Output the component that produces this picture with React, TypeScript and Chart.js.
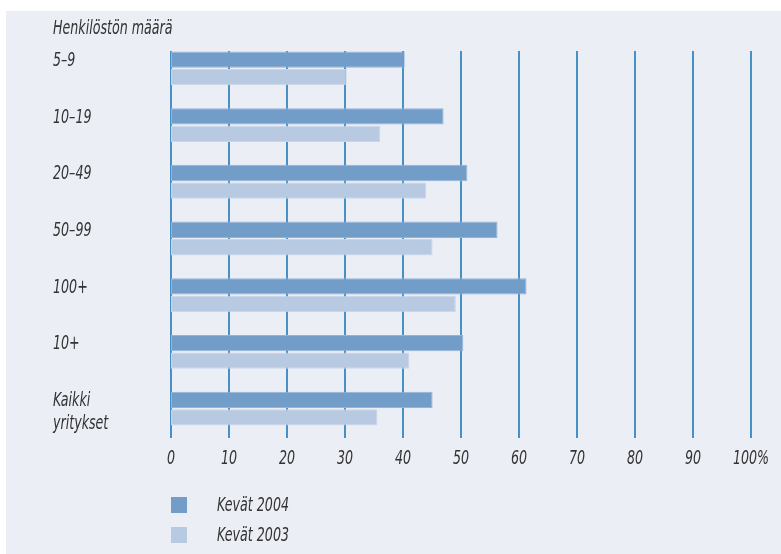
import React, { useEffect, useRef } from "react";
import { Chart, registerables } from "chart.js";

Chart.register(...registerables);

const categories: string[][] = [["5–9"], ["10–19"], ["20–49"], ["50–99"], ["100+"], ["10+"], ["Kaikki", "yritykset"]];
const spring2004: number[] = [40.3, 47.0, 51.1, 56.3, 61.3, 50.4, 45.1];
const spring2003: number[] = [30.3, 36.1, 44.0, 45.1, 49.1, 41.1, 35.6];
const xTicks: number[] = [0, 10, 20, 30, 40, 50, 60, 70, 80, 90, 100];
const xTickLabels: string[] = ["0", "10", "20", "30", "40", "50", "60", "70", "80", "90", "100%"];
const seriesNames: string[] = ["Kevät 2004", "Kevät 2003"];
const title = "Henkilöstön määrä";

const FONT = "italic 19px 'Liberation Sans Narrow', 'DejaVu Sans Condensed', Roboto, sans-serif";
const SX = 0.74;
const TEXT = "#333333";
const C2004 = "#729dc9";
const C2003 = "#b8c9e2";

function drawText(ctx: CanvasRenderingContext2D, text: string, x: number, y: number, align: "left" | "center") {
  ctx.save();
  ctx.translate(x, y);
  ctx.scale(SX, 1);
  ctx.textAlign = align;
  ctx.textBaseline = "middle";
  ctx.fillText(text, 0, 0);
  ctx.restore();
}

export default function App() {
  const ref = useRef<HTMLCanvasElement | null>(null);

  useEffect(() => {
    document.body.style.margin = "0";
    const canvas = ref.current;
    if (!canvas) return;

    const decor = {
      id: "decor",
      beforeDraw(chart: any) {
        const ctx = chart.ctx;
        ctx.save();
        ctx.fillStyle = "#ffffff";
        ctx.fillRect(0, 0, 781, 554);
        ctx.fillStyle = "#eceef6";
        ctx.fillRect(6, 11, 775, 543);
        ctx.restore();
      },
      beforeDatasetsDraw(chart: any) {
        const ctx = chart.ctx;
        const xs = chart.scales.x;
        ctx.save();
        ctx.strokeStyle = "#1f78bb";
        ctx.lineWidth = 1.6;
        xTicks.forEach((t) => {
          const x = Math.round(xs.getPixelForValue(t));
          ctx.beginPath();
          ctx.moveTo(x, 51);
          ctx.lineTo(x, 438);
          ctx.stroke();
        });
        ctx.restore();
      },
      afterDraw(chart: any) {
        const ctx = chart.ctx;
        const xs = chart.scales.x;
        const ys = chart.scales.y;
        ctx.save();
        ctx.font = FONT;
        ctx.fillStyle = TEXT;
        drawText(ctx, title, 53, 29, "left");
        categories.forEach((lines, i) => {
          const y = ys.getPixelForValue(i) - 7.5;
          lines.forEach((ln, j) => {
            drawText(ctx, ln, 53, y + j * 23, "left");
          });
        });
        xTicks.forEach((t, i) => {
          drawText(ctx, xTickLabels[i], xs.getPixelForValue(t), 459, "center");
        });
        const colors = [C2004, C2003];
        seriesNames.forEach((name, i) => {
          const y = 497 + i * 30;
          ctx.fillStyle = colors[i];
          ctx.fillRect(171, y, 16, 16);
          ctx.fillStyle = TEXT;
          drawText(ctx, name, 217, y + 9, "left");
        });
        ctx.restore();
      },
    };

    const chart = new Chart(canvas, {
      type: "bar",
      data: {
        labels: categories.map((c) => c.join(" ")),
        datasets: [
          {
            label: seriesNames[0],
            data: spring2004,
            backgroundColor: C2004,
            borderColor: "#93b4d8",
            borderWidth: 1,
            borderSkipped: false,
            barPercentage: 0.93,
            categoryPercentage: 0.618,
          },
          {
            label: seriesNames[1],
            data: spring2003,
            backgroundColor: C2003,
            borderColor: "#c8d6ea",
            borderWidth: 1,
            borderSkipped: false,
            barPercentage: 0.93,
            categoryPercentage: 0.618,
          },
        ],
      },
      options: {
        indexAxis: "y",
        responsive: false,
        animation: false,
        layout: { padding: { left: 171, right: 30, top: 40, bottom: 117 } },
        scales: {
          x: { display: false, min: 0, max: 100 },
          y: { display: false },
        },
        plugins: {
          legend: { display: false },
          tooltip: { enabled: false },
        },
      },
      plugins: [decor],
    });
    return () => chart.destroy();
  }, []);

  return (
    <div style={{ width: 781, height: 554 }}>
      <canvas ref={ref} width={781} height={554} style={{ display: "block" }} />
    </div>
  );
}
